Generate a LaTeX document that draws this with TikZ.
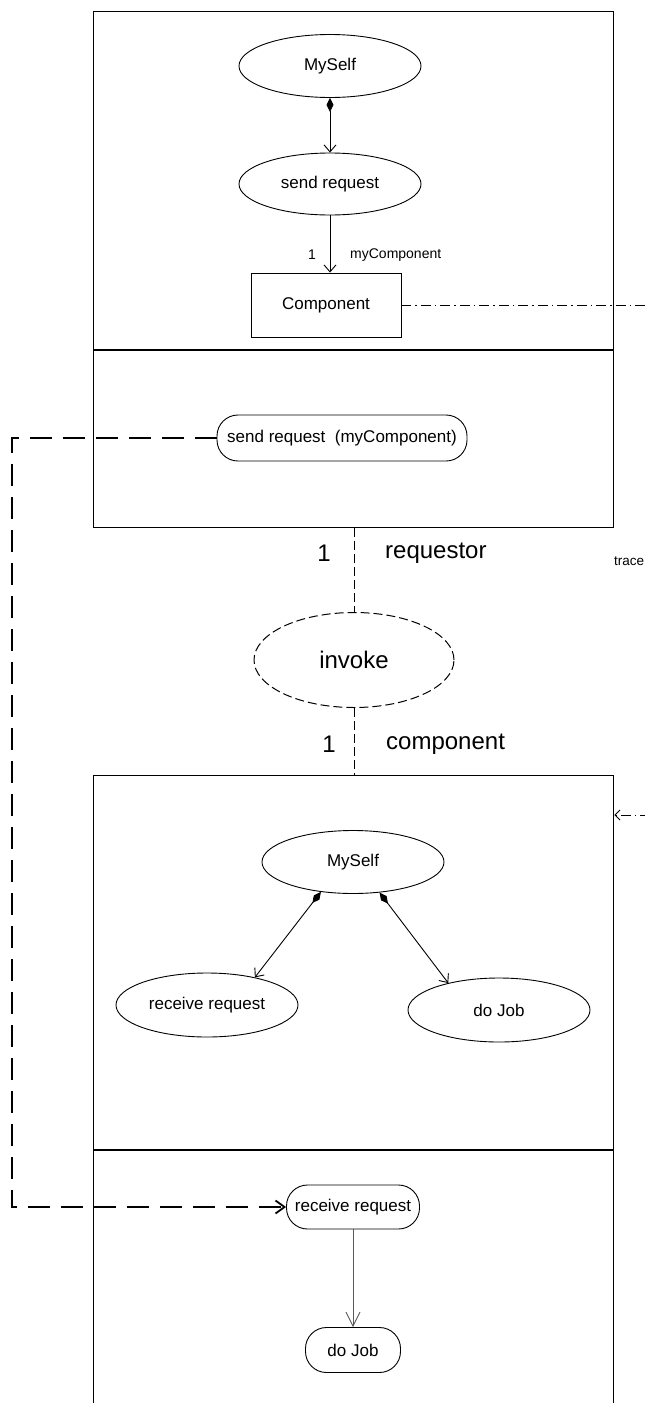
\documentclass[tikz,border=0pt]{standalone}
\usepackage{fontspec}
\setmainfont{Liberation Sans}
\usetikzlibrary{shapes.geometric,arrows.meta}
\begin{document}
\begin{tikzpicture}[x=1pt,y=-1pt,
  boxline/.style={draw, line width=1.3pt, inner sep=0pt, anchor=north west},
  uc/.style={ellipse, draw, line width=0.9pt, inner sep=0pt, minimum width=182pt, minimum height=63pt, font=\fontsize{17}{20}\selectfont},
  act/.style={rectangle, rounded corners=21pt, draw, line width=0.9pt, inner sep=0pt, minimum height=45pt, font=\fontsize{17}{20}\selectfont},
  small/.style={inner sep=0pt, font=\fontsize{14}{16}\selectfont},
  big/.style={inner sep=0pt, font=\fontsize{24}{28}\selectfont},
  compo/.style={line width=0.9pt, {Diamond[length=14pt,width=7pt]}-{Straight Barb[length=7pt,width=12pt]}},
  openarr/.style={line width=0.9pt, -{Straight Barb[length=7pt,width=12pt]}},
  grayarr/.style={line width=0.9pt, draw=black!65, -{Straight Barb[length=14pt,width=14pt]}},
  longdash/.style={line width=1.8pt, dash pattern=on 22pt off 11pt},
  thindash/.style={line width=1pt, dash pattern=on 9pt off 4pt},
  dashdot/.style={line width=1pt, dash pattern=on 10pt off 4pt on 1.5pt off 4pt},
]
\clip (0,0) rectangle (645,1403);
\fill[white] (0,0) rectangle (645,1403);

% top class box
\node[boxline, minimum width=520pt, minimum height=516pt] (tb) at (93,11) {};
\draw[line width=1.3pt] (93,350) -- (613,350);
% lower class box
\node[boxline, minimum width=520pt, minimum height=680pt] (lb) at (93,775) {};
\draw[line width=1.3pt] (93,1150) -- (613,1150);

% top box contents
\node[uc] (ms1) at (330,66) {MySelf};
\node[uc, minimum height=62pt] (sr1) at (330,184) {send request};
\node[rectangle, draw, line width=0.9pt, inner sep=0pt, minimum width=150pt, minimum height=64pt, font=\fontsize{17}{20}\selectfont] (comp) at (326,305) {Component};
\draw[compo] (ms1.south) -- (sr1.north);
\draw[openarr] (sr1.south) -- (sr1.south |- comp.north);
\node[small] (one0) at (312,255) {1};
\node[small, anchor=west] (mc) at (350,255) {myComponent};

\node[act, minimum width=250pt, minimum height=46pt] (sr2) at (342,438) {send request~~(myComponent)};

% association class invoke
\node[ellipse, draw, thindash, inner sep=0pt, minimum width=200pt, minimum height=95pt, font=\fontsize{24}{28}\selectfont] (inv) at (354,660) {invoke};
\draw[thindash] (inv.north |- tb.south) -- (inv.north);
\draw[thindash] (inv.south) -- (inv.south |- lb.north);
\node[big] (one1) at (324,553) {1};
\node[big, anchor=west] (req) at (385,553) {requestor};
\node[big] (one2) at (329,744) {1};
\node[big, anchor=west] (cmpl) at (386,744) {component};
\node[inner sep=0pt, anchor=west, font=\fontsize{13.5}{16}\selectfont] (tr) at (614,561) {trace};

% trace dash-dot
\coordinate (trA) at (650,305);
\coordinate (trB) at (650,815);
\draw[dashdot] (comp.east) -- (trA);
\draw[dashdot, -{Straight Barb[length=5pt,width=10pt]}] (trB) -- (lb.east |- trB);

% lower box contents
\node[uc] (ms2) at (353,862) {MySelf};
\node[uc, minimum height=64pt] (rr1) at (207,1005) {receive request};
\node[uc, minimum height=64pt] (dj1) at (499,1010) {do Job};
\draw[compo] (ms2.223) -- (rr1.30);
\draw[compo] (ms2.311) -- (dj1.152);

\node[act, minimum width=133pt, minimum height=44pt] (rr2) at (353,1207) {receive request};
\node[act, minimum width=95pt, minimum height=45pt] (dj2) at (353,1350) {do Job};
\draw[grayarr] (rr2.south) -- (dj2.north);

% long dashed flow
\coordinate (c1) at (12,438);
\coordinate (c2) at (12,1207);
\draw[longdash, -{Straight Barb[length=9pt,width=13pt]}] (sr2.west) -- (c1) -- (c2) -- (rr2.west);
\end{tikzpicture}
\end{document}
